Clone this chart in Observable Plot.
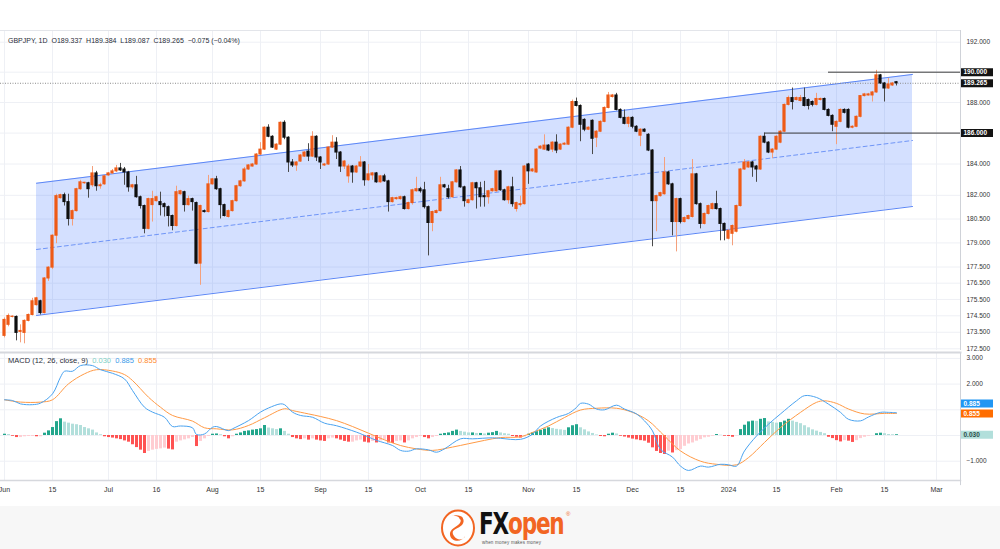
<!DOCTYPE html>
<html>
<head>
<meta charset="utf-8">
<script src="https://cdn.jsdelivr.net/npm/d3@7"></script>
<script src="https://cdn.jsdelivr.net/npm/@observablehq/plot@0.6"></script>
<style>
  body { margin: 0; background: #fff; }
  #wrap { position: relative; width: 1000px; height: 549px; overflow: hidden; font-family: "Liberation Sans", Arial, sans-serif; background: #fff; }
  #price, #macd { position: absolute; left: 0; }
  #price { top: 0; }
  #macd { top: 350px; }
  #price svg { overflow: visible; }
  .hdr { position: absolute; left: 8px; top: 37px; font-size: 7px; color: #2a2e39; white-space: pre; }
  .leg { position: absolute; left: 8px; top: 356px; font-size: 7.5px; color: #2a2e39; white-space: pre; }
  #footer { position: absolute; left: 0; top: 506px; width: 1000px; height: 43px; background: #f7f7f7; }
  .fx { position: absolute; left: 479px; top: 5px; height: 26px; font: 700 30px/26px "DejaVu Sans Condensed", "Roboto", sans-serif; letter-spacing: -1.5px; color: #111; transform: scaleX(0.8); transform-origin: 0 0; }
  .fx span { color: #f26522; }
  .tag { position: absolute; left: 482px; top: 34px; font-size: 4.5px; line-height: 5px; color: #555; letter-spacing: 0.2px; }
  .reg { position: absolute; left: 566px; top: 5px; font-size: 6px; color: #f26522; }
</style>
</head>
<body>
<div id="wrap">
  <div id="price"></div>
  <div id="macd"></div>
  <div class="hdr">GBPJPY, 1D  O189.337  H189.384  L189.087  C189.265  −0.075 (−0.04%)</div>
  <div class="leg">MACD (12, 26, close, 9)  <span style="color:#7fd0c4">0.030</span>  <span style="color:#3d9be9">0.885</span>  <span style="color:#ff8a2b">0.855</span></div>
  <div id="footer">
    <svg style="position:absolute;left:440px;top:3px" width="36" height="38" viewBox="0 0 36 38">
      <ellipse cx="18" cy="19" rx="16" ry="17.5" fill="#fff" stroke="#f26522" stroke-width="2"/>
      <path d="M12 7 C20 4 27 10 22 16 C17 21 10 20 14 27 C17 32 24 31 25 27 C22 34 11 33 10 26 C9 20 17 18 20 14 C23 10 17 6 12 7 Z" fill="#f26522"/>
      <circle cx="21" cy="9" r="1.6" fill="#f26522"/>
    </svg>
    <div class="fx">FX<span>open</span></div>
    <div class="reg">®</div>
    <div class="tag">when money makes money</div>
  </div>
</div>
<script>
// ---------- DATA (bar index 0 = 1 Jun 2023, last bar = 19 Feb 2024) ----------
const open = [
173.28,173.95,174.43,174.43,173.52,173.46,174.19,174.55,175.15,175.39,
174.67,176.79,177.46,179.45,181.82,182.01,181.57,180.50,181.00,182.39,
182.77,182.77,182.64,183.40,182.58,182.70,183.27,183.40,183.53,183.72,
183.65,183.46,182.51,182.64,181.88,181.32,179.88,181.38,181.63,181.57,
181.44,181.25,180.69,180.06,182.07,182.20,181.38,181.76,181.51,177.71,
181.00,180.94,182.70,183.02,182.39,181.38,180.63,181.00,181.63,182.58,
182.89,183.65,183.84,183.97,184.61,184.93,186.35,185.76,184.93,185.25,
186.67,185.70,184.10,183.91,184.16,184.48,184.80,184.48,185.76,184.42,
183.91,183.97,185.06,185.38,184.74,183.84,183.21,183.84,183.46,183.84,
184.10,182.96,183.27,183.40,182.83,183.21,182.89,181.57,181.76,181.76,
181.88,181.13,181.51,182.26,182.39,182.32,181.25,180.25,180.88,181.00,
182.64,182.39,181.88,182.83,183.59,182.51,181.51,181.69,182.77,182.45,
181.95,181.88,182.26,182.26,183.53,182.32,181.69,182.51,181.13,181.38,
181.44,183.97,183.53,183.46,185.00,184.93,185.19,184.93,185.38,184.93,
185.25,185.25,186.35,188.03,187.77,186.86,186.22,186.80,185.70,186.09,
186.73,187.64,188.36,188.46,187.51,186.99,186.60,186.99,186.41,185.83,
186.22,185.89,184.87,181.63,181.95,182.07,183.46,182.70,180.31,181.76,
180.31,180.50,180.63,183.34,181.44,180.19,180.82,181.13,181.44,181.13,
180.19,179.26,179.57,179.70,181.32,183.65,183.78,184.10,183.84,183.65,
185.76,185.38,184.74,184.93,185.38,186.09,187.84,188.29,188.16,188.10,
188.29,188.16,188.03,187.84,188.16,188.23,187.51,187.12,186.41,186.73,
187.51,187.51,186.35,186.41,187.06,188.42,188.46,188.46,188.66,189.79,
189.25,188.92,189.12,189.337];
const high = [
174.37,174.61,174.49,174.49,173.95,174.25,174.61,175.57,175.63,175.45,
176.85,177.52,179.51,182.07,182.07,182.14,182.07,181.07,182.45,182.96,
182.83,182.83,183.84,183.53,182.77,183.27,183.46,183.65,183.91,184.04,
183.78,183.53,182.70,183.21,181.95,181.38,181.82,182.26,181.95,182.20,
181.51,181.32,180.75,182.58,182.32,182.26,181.95,181.82,181.57,181.38,
181.07,183.27,183.08,183.21,182.45,181.44,181.07,181.69,182.64,182.96,
183.78,183.97,184.04,184.67,185.38,186.41,186.54,185.83,185.31,186.73,
186.80,185.76,184.29,184.16,184.61,184.80,185.31,186.09,185.83,184.48,
184.04,185.12,185.83,185.70,184.80,184.23,183.97,183.91,183.91,184.48,
184.16,183.97,183.46,183.46,183.27,183.34,182.96,181.88,181.88,181.95,
181.95,181.57,182.39,183.15,182.51,182.83,181.32,181.00,181.07,183.15,
182.70,182.64,182.89,183.65,183.84,182.58,181.76,182.83,182.83,182.83,
182.89,182.32,182.45,183.59,183.59,182.39,182.58,183.15,181.57,181.95,
183.91,184.04,183.72,185.00,185.19,185.89,185.25,185.44,185.89,185.31,
185.38,186.41,188.16,188.29,187.84,186.93,186.41,186.86,186.16,186.80,
187.71,188.66,188.53,188.60,187.58,187.51,187.06,187.06,186.48,186.28,
186.28,185.96,184.93,182.01,182.20,184.42,183.53,182.77,181.82,181.82,
180.63,180.75,184.29,183.40,181.51,180.88,181.38,181.51,182.26,181.19,
180.25,179.82,180.13,181.38,183.72,184.29,184.16,184.16,183.91,185.83,
186.00,185.44,185.00,185.83,186.16,187.90,188.42,188.95,188.36,188.46,
188.95,188.23,188.10,188.60,188.29,188.29,187.58,187.19,186.80,187.58,
187.58,187.58,186.48,187.12,188.46,188.60,188.60,188.73,190.12,189.85,
189.32,189.58,189.32,189.384];
const low = [
173.16,173.83,174.37,172.98,172.86,172.80,174.13,174.49,175.09,174.55,
174.61,176.61,177.34,178.95,181.76,181.32,180.06,180.06,180.94,182.32,
182.70,181.82,182.51,182.26,182.39,182.64,183.21,183.34,183.46,183.53,
182.64,182.20,182.39,181.82,181.13,179.57,179.82,180.31,181.57,180.69,
180.63,180.00,179.76,180.00,182.01,180.94,181.32,181.00,177.65,176.37,
180.88,180.88,182.64,182.32,180.50,180.63,180.56,180.94,181.57,182.51,
182.83,183.59,183.80,183.91,184.55,184.87,185.70,185.00,184.87,185.19,
185.57,183.46,183.78,183.53,184.10,184.42,184.16,184.42,184.16,183.65,
183.84,183.91,185.00,184.29,183.46,183.65,182.77,182.77,183.40,183.78,
182.58,182.89,182.96,182.77,182.77,182.83,180.94,181.51,181.69,181.69,
181.07,181.07,181.38,182.20,182.14,181.13,178.19,179.70,180.82,180.94,
182.45,181.76,181.82,182.77,182.45,181.25,181.44,181.63,181.13,181.25,
181.25,181.44,182.20,182.20,182.26,181.63,181.44,181.25,180.94,181.25,
181.38,182.70,183.46,183.40,184.93,184.87,184.80,184.74,184.67,184.87,
185.19,185.19,186.28,187.71,185.44,186.09,186.16,184.61,185.06,186.03,
186.67,187.58,188.29,187.45,186.93,186.54,186.35,186.28,186.03,185.12,
186.03,184.80,178.76,179.70,181.88,182.01,182.64,179.44,178.44,180.19,
180.25,180.44,180.56,181.38,179.88,180.13,180.75,181.07,181.07,179.13,
179.13,179.19,178.82,179.63,181.25,183.59,183.72,183.15,182.83,183.59,
185.31,184.67,184.35,184.87,185.31,186.03,187.77,187.51,188.10,188.03,
187.71,187.51,187.71,187.77,188.10,187.45,187.06,186.09,185.25,186.67,
187.25,186.28,186.28,186.35,186.99,188.36,188.42,188.03,188.60,189.19,
188.03,188.86,189.05,189.087];
const close = [
174.25,174.49,174.45,173.46,173.58,174.19,174.55,175.39,175.57,174.67,
176.79,177.46,179.45,181.95,182.01,181.57,180.50,181.00,182.39,182.83,
182.80,182.39,183.40,182.58,182.64,183.21,183.40,183.53,183.72,183.59,
183.46,182.51,182.64,181.88,181.32,179.88,181.76,181.76,181.88,181.38,
181.25,180.69,180.06,182.20,182.26,181.38,181.76,181.57,177.71,181.32,
180.94,182.70,183.02,182.39,181.38,180.69,181.00,181.63,182.58,182.89,
183.65,183.91,183.97,184.61,184.93,186.35,185.76,185.06,185.25,186.67,
185.70,184.10,183.91,184.10,184.55,184.74,184.48,185.76,184.42,184.10,
183.97,185.06,185.38,184.74,183.84,184.16,183.84,183.46,183.84,184.10,
182.96,183.34,183.40,182.83,183.21,182.89,181.57,181.82,181.82,181.88,
181.13,181.51,182.32,182.39,182.26,181.25,180.25,180.94,181.00,182.64,
182.51,181.88,182.83,183.59,182.51,181.63,181.69,182.77,182.45,181.88,
181.88,182.26,182.39,183.53,182.32,181.69,182.51,181.44,181.51,181.44,
183.84,183.53,183.65,184.93,185.12,185.19,184.87,185.38,184.87,185.25,
185.31,186.35,188.03,187.77,186.54,186.22,186.35,185.63,186.09,186.73,
187.64,188.46,188.46,187.51,186.99,186.60,186.99,186.41,186.09,186.22,
186.09,184.87,181.63,181.95,182.14,183.46,182.70,180.31,181.76,180.31,
180.56,180.69,183.34,181.44,180.19,180.82,181.32,181.44,181.13,180.19,
179.76,179.76,180.06,181.32,183.65,184.10,184.10,183.78,183.65,185.76,
185.38,184.74,184.93,185.76,186.09,187.84,188.29,188.03,188.29,188.29,
187.77,187.77,187.84,188.23,188.23,187.51,187.12,186.54,186.73,187.51,
187.32,186.35,186.41,187.06,188.42,188.53,188.53,188.66,189.79,189.25,
188.92,189.19,189.25,189.265];

const priceTicks = [192, 190, 188, 186, 184, 182, 180.5, 179, 177.5, 176.5, 175.5, 174.5, 173.5, 172.5];
const dateTickBar = [0, 12, 26, 38, 52, 64, 79, 91, 104, 116, 131, 143, 157, 169, 181, 193, 208, 220, 233];
const dateTickLabel = ["Jun", "15", "Jul", "16", "Aug", "15", "Sep", "15", "Oct", "15", "Nov", "15", "Dec", "15", "2024", "15", "Feb", "15", "Mar"];

// parallel channel drawing (two anchor bars)
const channelBar = [8, 227];
const channelUpper = [182.77, 189.85];
const channelMid = [178.59, 185.52];
const channelLower = [174.52, 181.29];

// horizontal level lines
const levelPrice = [190, 186];
const levelFromBar = [206, 190];

// MACD (12, 26, close, 9)
const macdBar = [0,2,4,7,9,12,14,15,17,19,22,24,27,30,32,35,37,40,42,44,47,48,50,52,53,56,57,61,64,66,69,70,72,74,77,80,83,88,91,93,97,99,101,103,106,108,110,114,117,122,124,129,132,134,138,141,143,144,146,148,150,153,155,158,160,162,164,167,169,171,174,176,179,181,183,185,188,191,194,198,200,203,206,209,211,214,216,219,221,223];
const macdValue = [1.39,1.36,1.23,1.20,1.26,1.62,2.27,2.50,2.50,2.72,2.72,2.56,2.42,2.20,1.75,1.10,0.91,0.71,0.35,0.37,0.30,0.04,0.06,0.32,0.35,0.19,0.26,0.58,0.91,1.07,1.23,1.20,0.91,0.78,0.71,0.48,0.38,0.13,-0.06,-0.19,-0.39,-0.58,-0.61,-0.52,-0.56,-0.65,-0.52,-0.13,-0.13,-0.09,-0.11,-0.15,0.05,0.37,0.70,0.86,1.09,1.25,1.22,1.03,1.00,1.18,1.03,0.84,0.57,0.18,-0.54,-0.84,-1.19,-1.36,-1.19,-1.23,-1.12,-1.14,-1.19,-0.60,-0.02,0.44,0.84,1.35,1.55,1.48,1.22,0.90,0.63,0.57,0.72,0.90,0.90,0.885];
const signalBar = [0,4,9,12,16,20,23,27,30,32,36,39,42,47,50,53,57,61,65,70,72,76,79,83,87,91,95,99,103,107,112,116,120,124,129,132,136,140,144,148,153,157,161,165,169,174,178,183,186,190,194,199,203,205,208,211,215,220,223];
const signalValue = [1.39,1.30,1.30,1.39,2.01,2.40,2.56,2.51,2.37,2.14,1.49,1.10,0.78,0.56,0.30,0.26,0.22,0.39,0.69,1.04,0.97,0.84,0.74,0.58,0.35,0.09,-0.17,-0.39,-0.52,-0.58,-0.45,-0.32,-0.19,-0.08,-0.05,0.12,0.37,0.70,0.99,1.06,1.06,0.90,0.57,-0.02,-0.60,-1.00,-1.12,-1.14,-0.86,-0.27,0.31,0.90,1.29,1.35,1.25,1.03,0.84,0.86,0.855];
const histValue = [
0.05,0.04,-0.03,-0.08,-0.08,-0.05,-0.04,-0.04,-0.05,-0.05,
0.09,0.18,0.31,0.54,0.65,0.52,0.48,0.44,0.42,0.39,
0.31,0.26,0.21,0.10,0.03,-0.05,-0.08,-0.10,-0.13,-0.16,
-0.21,-0.26,-0.36,-0.47,-0.57,-0.70,-0.62,-0.57,-0.54,-0.52,
-0.49,-0.53,-0.56,-0.26,-0.21,-0.17,-0.13,-0.08,-0.43,-0.23,
-0.13,-0.04,0.05,0.06,0.03,-0.05,-0.13,-0.05,0.05,0.10,
0.16,0.18,0.21,0.23,0.26,0.39,0.29,0.26,0.23,0.26,
0.16,0.05,-0.08,-0.13,-0.16,-0.13,-0.18,-0.13,-0.18,-0.21,
-0.23,-0.13,-0.10,-0.13,-0.18,-0.23,-0.26,-0.26,-0.21,-0.18,
-0.26,-0.29,-0.23,-0.29,-0.21,-0.18,-0.29,-0.31,-0.23,-0.21,
-0.29,-0.21,-0.13,-0.08,-0.04,-0.08,-0.13,-0.08,-0.04,0.05,
0.08,0.10,0.16,0.21,0.16,0.13,0.10,0.10,0.08,0.08,
0.06,0.09,0.11,0.16,0.10,0.07,0.05,-0.04,-0.07,-0.10,
-0.06,0.05,0.10,0.15,0.20,0.25,0.30,0.27,0.24,0.22,
0.20,0.30,0.38,0.42,0.30,0.22,0.14,0.08,0.02,-0.04,
-0.05,0.05,0.09,0.06,-0.03,-0.06,-0.10,-0.14,-0.17,-0.20,
-0.22,-0.30,-0.48,-0.62,-0.70,-0.74,-0.61,-0.68,-0.59,-0.55,
-0.42,-0.33,-0.29,-0.22,-0.16,-0.09,-0.07,-0.03,0.04,0.01,
-0.03,-0.04,-0.07,-0.01,0.23,0.40,0.53,0.56,0.55,0.63,
0.66,0.53,0.51,0.48,0.50,0.56,0.63,0.56,0.51,0.46,
0.38,0.30,0.22,0.17,0.12,0.07,-0.07,-0.12,-0.20,-0.25,
-0.20,-0.22,-0.27,-0.20,-0.12,-0.07,-0.03,-0.01,0.07,0.09,
0.07,0.04,0.03,0.03];
const macdTicks = [3, 2, 1, 0, -1];
const macdAxisLabels = [3, 2, -1];

// ---------- BUILD ----------
const FONT = '"Liberation Sans", Arial, sans-serif';
const AXIS_BAR = 239;          // bar position of the right price-axis border
const LABEL_W = 8.25;          // width of axis label boxes in bars
const xOpts = {domain: [0, 223], range: [4, 896], axis: null};
const GRID = "#eef0f5";

const bars = open.map((o, k) => ({k, o, h: high[k], l: low[k], c: close[k]}));
const up = bars.filter(d => d.c >= d.o);
const down = bars.filter(d => d.c < d.o);
const channel = channelBar.map((k, i) => ({k, hi: channelUpper[i], mid: channelMid[i], lo: channelLower[i]}));
const levels = levelPrice.map((p, i) => ({p, from: levelFromBar[i]}));
const lastClose = close[close.length - 1];
const priceBoxes = [
  {p: levelPrice[0], t: levelPrice[0].toFixed(3)},
  {p: lastClose, t: lastClose.toFixed(3)},
  {p: levelPrice[1], t: levelPrice[1].toFixed(3)}
];
const axisTicks = priceTicks.filter(p => !levelPrice.includes(p));
const dateTicks = dateTickBar.map((k, i) => ({k, t: dateTickLabel[i]}));

const pricePlot = Plot.plot({
  width: 1000, height: 350,
  marginTop: 30, marginRight: 40, marginBottom: 0, marginLeft: 0,
  style: {fontFamily: FONT, background: "transparent", color: "#333", overflow: "visible"},
  x: xOpts,
  y: {type: "log", domain: [172.5, 192], range: [348.3, 41.7], axis: null},
  marks: [
    Plot.ruleY(priceTicks, {stroke: GRID}),
    Plot.ruleX(dateTickBar, {stroke: GRID}),
    Plot.areaY(channel, {x: "k", y1: "lo", y2: "hi", fill: "#2962ff", fillOpacity: 0.2}),
    Plot.line(channel, {x: "k", y: "hi", stroke: "#5b86f6", strokeWidth: 1}),
    Plot.line(channel, {x: "k", y: "lo", stroke: "#5b86f6", strokeWidth: 1}),
    Plot.line(channel, {x: "k", y: "mid", stroke: "#6f95f7", strokeWidth: 1, strokeDasharray: "4,3"}),
    Plot.ruleY([lastClose], {x1: -1, x2: AXIS_BAR, stroke: "#8c8c8c", strokeDasharray: "1,1.5"}),
    Plot.ruleX(up, {x: "k", y1: "l", y2: "h", stroke: "#f4a07c", strokeWidth: 1}),
    Plot.ruleX(down, {x: "k", y1: "l", y2: "h", stroke: "#4a4a4a", strokeWidth: 1}),
    Plot.rect(up, {x1: d => d.k - 0.4, x2: d => d.k + 0.4, y1: "o", y2: "c", fill: "#ee5a16", insetTop: -0.5, insetBottom: -0.5}),
    Plot.rect(down, {x1: d => d.k - 0.4, x2: d => d.k + 0.4, y1: "o", y2: "c", fill: "#0e0e0e", insetTop: -0.5, insetBottom: -0.5}),
    Plot.ruleY(levels, {y: "p", x1: "from", x2: AXIS_BAR, stroke: "#3a3a3a", strokeWidth: 1}),
    Plot.axisY({anchor: "right", ticks: axisTicks, tickFormat: d => d.toFixed(3), tickSize: 0, tickPadding: 6, fontSize: 6.5, fill: "#333"}),
    Plot.ruleY(priceBoxes, {y: "p", x1: AXIS_BAR, x2: AXIS_BAR + LABEL_W, stroke: "#131313", strokeWidth: 8}),
    Plot.text(priceBoxes, {y: "p", x: AXIS_BAR, text: "t", textAnchor: "start", dx: 3, fill: "#fff", fontSize: 6.5, fontWeight: 700}),
    Plot.ruleX([AXIS_BAR], {stroke: "#cfd2d8"}),
    Plot.ruleY([192], {dy: -11.7, stroke: "#e3e5ea"})
  ]
});
document.getElementById("price").append(pricePlot);

// MACD pane
const hist = histValue.map((v, k) => {
  const prev = k > 0 ? histValue[k - 1] : v;
  let col;
  if (v >= 0) col = v >= prev ? "#22a68c" : "#b2dfdb";
  else col = v < prev ? "#ff5252" : "#ffcdd2";
  return {k, v, col};
});
const histGroups = ["#22a68c", "#b2dfdb", "#ff5252", "#ffcdd2"];
const macdLine = macdBar.map((k, i) => ({k, v: macdValue[i]}));
const signalLine = signalBar.map((k, i) => ({k, v: signalValue[i]}));
const lastHist = histValue[histValue.length - 1];
const lastMacd = macdValue[macdValue.length - 1];
const lastSignal = signalValue[signalValue.length - 1];

const macdPlot = Plot.plot({
  width: 1000, height: 160,
  marginTop: 2, marginRight: 40, marginBottom: 30, marginLeft: 0,
  style: {fontFamily: FONT, background: "transparent", color: "#333"},
  x: xOpts,
  y: {domain: [-1, 3], range: [110.7, 7.9], axis: null},
  marks: [
    Plot.ruleY(macdTicks, {stroke: GRID}),
    Plot.ruleX(dateTickBar, {stroke: GRID}),
    ...histGroups.map(c => Plot.ruleX(hist.filter(d => d.col === c), {x: "k", y1: 0, y2: "v", stroke: c, strokeWidth: 3})),
    Plot.line(signalLine, {x: "k", y: "v", stroke: "#ff9a45", strokeWidth: 1, curve: "catmull-rom"}),
    Plot.line(macdLine, {x: "k", y: "v", stroke: "#4aa3f0", strokeWidth: 1, curve: "catmull-rom"}),
    Plot.text(macdAxisLabels, {x: AXIS_BAR, y: d => d, text: d => (d < 0 ? "−" : "") + Math.abs(d).toFixed(3), textAnchor: "start", dx: 6, fontSize: 6.5, fill: "#333"}),
    Plot.ruleY([lastMacd], {x1: AXIS_BAR, x2: AXIS_BAR + LABEL_W, dy: -9.2, stroke: "#2196f3", strokeWidth: 8}),
    Plot.text([lastMacd], {x: AXIS_BAR, y: d => d, dy: -9.2, text: d => d.toFixed(3), textAnchor: "start", dx: 3, fill: "#fff", fontSize: 6.5, fontWeight: 700}),
    Plot.ruleY([lastSignal], {x1: AXIS_BAR, x2: AXIS_BAR + LABEL_W, stroke: "#ff6d00", strokeWidth: 8}),
    Plot.text([lastSignal], {x: AXIS_BAR, y: d => d, text: d => d.toFixed(3), textAnchor: "start", dx: 3, fill: "#fff", fontSize: 6.5, fontWeight: 700}),
    Plot.ruleY([lastHist], {x1: AXIS_BAR, x2: AXIS_BAR + LABEL_W, stroke: "#b2dfdb", strokeWidth: 8}),
    Plot.text([lastHist], {x: AXIS_BAR, y: d => d, text: d => d.toFixed(3), textAnchor: "start", dx: 3, fill: "#2e4e49", fontSize: 6.5, fontWeight: 700}),
    Plot.frame({anchor: "top", stroke: "#d6d8dd", strokeWidth: 2}),
    Plot.frame({anchor: "bottom", stroke: "#d6d8dd", strokeWidth: 1.5}),
    Plot.ruleX([AXIS_BAR], {y1: 3.2, y2: -1.95, stroke: "#cfd2d8"}),
    Plot.text(dateTicks, {x: "k", text: "t", frameAnchor: "bottom", dy: 11, fontSize: 7, fill: "#333", fontWeight: d => d.t === "2024" ? 700 : 400})
  ]
});
document.getElementById("macd").append(macdPlot);
</script>
</body>
</html>
